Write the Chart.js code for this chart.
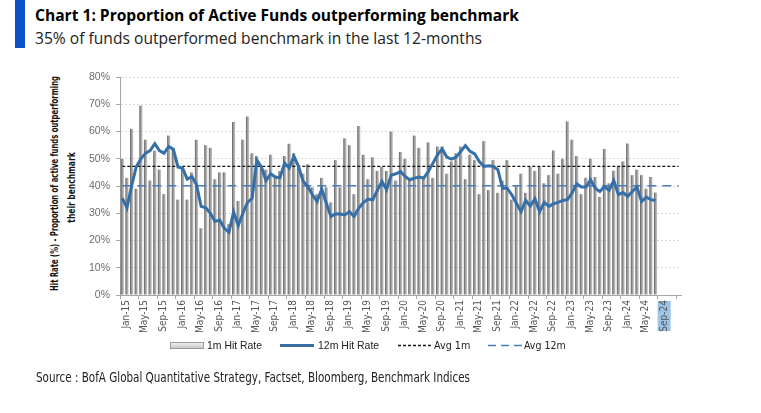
<!DOCTYPE html>
<html>
<head>
<meta charset="utf-8">
<script src="https://cdn.jsdelivr.net/npm/chart.js@4.4.1/dist/chart.umd.min.js"></script>
<style>
  html,body{margin:0;padding:0;background:#fff;}
  body{width:761px;height:413px;position:relative;overflow:hidden;}
  .t{position:absolute;white-space:nowrap;transform-origin:0 50%;line-height:1;}
  #c{position:absolute;left:0;top:0;}
  .rot{position:absolute;white-space:nowrap;line-height:1;font-family:'Liberation Sans Narrow','DejaVu Sans Condensed',sans-serif;font-weight:bold;font-size:11px;color:#111;}
</style>
</head>
<body>
<div style="position:absolute;left:15px;top:0;width:10px;height:48px;background:#0a53c6"></div>
<div class="t" id="title" data-w="484" style="left:35px;top:7px;font-family:'Open Sans',sans-serif;font-weight:bold;font-size:16px;color:#000;">Chart 1: Proportion of Active Funds outperforming benchmark</div>
<div class="t" id="sub" data-w="447" style="left:35px;top:30px;font-family:'Open Sans',sans-serif;font-size:16px;color:#222;">35% of funds outperformed benchmark in the last 12-months</div>
<div class="rot" id="yt1" data-w="215" data-cx="55" data-cy="183">Hit Rate (%) - Proportion of active funds outperforming</div>
<div class="rot" id="yt2" data-w="70" data-cx="71" data-cy="187">their benchmark</div>
<canvas id="c" width="761" height="413"></canvas>
<svg style="position:absolute;left:0;top:335px" width="761" height="20">
  <defs><linearGradient id="lg" x1="0" y1="0" x2="0" y2="1"><stop offset="0" stop-color="#f4f4f4"/><stop offset="1" stop-color="#c4c4c4"/></linearGradient></defs>
  <rect x="170.5" y="7.5" width="33" height="6" fill="url(#lg)" stroke="#9a9a9a" stroke-width="1"/>
  <line x1="280" y1="10.5" x2="314" y2="10.5" stroke="#3a6ea5" stroke-width="3"/>
  <line x1="398" y1="10.5" x2="433" y2="10.5" stroke="#111" stroke-width="1.3" stroke-dasharray="3,2"/>
  <line x1="488" y1="10.5" x2="523" y2="10.5" stroke="#4a7ebb" stroke-width="1.6" stroke-dasharray="8,5"/>
</svg>
<div class="t" data-w="55" style="left:207px;top:340px;font-family:'Liberation Sans',sans-serif;font-size:11px;color:#222;">1m Hit Rate</div>
<div class="t" data-w="61" style="left:318px;top:340px;font-family:'Liberation Sans',sans-serif;font-size:11px;color:#222;">12m Hit Rate</div>
<div class="t" data-w="36" style="left:434px;top:340px;font-family:'Liberation Sans Narrow','DejaVu Sans Condensed',sans-serif;font-size:11px;color:#222;">Avg 1m</div>
<div class="t" data-w="42" style="left:524px;top:340px;font-family:'Liberation Sans Narrow','DejaVu Sans Condensed',sans-serif;font-size:11px;color:#222;">Avg 12m</div>
<div class="t" data-w="434" style="left:36px;top:371px;font-family:'Liberation Sans Narrow','DejaVu Sans Condensed',sans-serif;font-size:13.5px;color:#222;">Source : BofA Global Quantitative Strategy, Factset, Bloomberg, Benchmark Indices</div>
<script>
// ---- data ----
const monthNames = ['Jan','Feb','Mar','Apr','May','Jun','Jul','Aug','Sep','Oct','Nov','Dec'];
const years = [15,16,17,18,19,20,21,22,23,24,25];
const categories = [];
for (const y of years) for (const m of monthNames) { if (categories.length < 121) categories.push(m + '-' + y); }
const lastLabelIndex = 116; // Sep-24
const highlightLabel = 'Sep-24';

const hitRate1m = [50,43,61,39,69.5,57,42,53,46,37,58.5,54,
 35,47,35,45,57,24.5,55,54,42.5,45,45,26,
 63.5,34.5,57,65.5,52,51,47,46,51.5,43.5,45.5,51,
 55.5,52,47,44.5,48,39.5,37,43,39.5,34,49.5,39.5,
 57.5,55,37,62,51.5,42.5,50.5,45.5,47,45.5,60,42,
 52.5,50,42.5,58.5,54,43.5,56,43,54.5,54.5,44.5,49,
 52,54.5,42.5,51.5,49.5,37,56.5,38.5,49.5,37.5,42,49.5,
 35,40,44.5,37.5,47,45.5,47,41,44,53,44.5,50,
 63.7,57,51,37,43,50,43.3,36,53.6,41,45.6,47.2,
 49,55.6,44,46,44,39,43.3,37.6];

const hitRate12m = [35.5,32,40,47,50,52,53,55.5,53,52,54.5,53.5,
 47,46.5,42.5,43.5,40.5,32.5,32,30,27,27.5,24.5,23,
 30.5,25.5,30,34,35.5,49.5,47,42,44.5,43.3,43,48.4,
 46.6,50.9,47.2,41.7,39.8,36.8,34.3,38.8,33.7,28.8,29.8,29.7,
 29.4,30.6,28.8,31.9,33.9,35.2,34.9,38.4,41.7,38.6,44,44.5,
 45.3,43.5,42.3,42.9,43.3,42.9,45.3,48.4,51.5,53.6,50.6,49.9,
 50.6,52.7,54.8,52.7,51.8,49,47.2,47.4,47.2,46,39.2,39.2,
 36.8,33.7,30.6,34.7,32.7,35.3,30.6,34,32.5,33.5,34,34.7,
 35,37.4,40.8,39.6,39.6,42.3,39.2,38,39.8,38.4,42,36.8,
 37.6,36.2,38,39.6,34.3,35.9,35,34.7];

const avg1m = 47.2;
const avg12m = 40.1;
const yTicks = [0,10,20,30,40,50,60,70,80];

const avg1mLine = categories.map(() => avg1m);
const avg12mLine = categories.map(() => avg12m);

const NARROW = "'Liberation Sans Narrow','DejaVu Sans Condensed',sans-serif";

const highlightPlugin = {
  id: 'hl',
  beforeDraw(chart) {
    const xs = chart.scales.x;
    const idx = categories.indexOf(highlightLabel);
    const cx = xs.getPixelForValue(idx) + 4;
    const ctx = chart.ctx;
    ctx.save();
    ctx.fillStyle = '#9dc3e6';
    ctx.fillRect(cx - 6.5, chart.chartArea.bottom + 6, 13, 30);
    ctx.restore();
  }
};

function barColor(ctx) {
  const chart = ctx.chart;
  const xs = chart.scales && chart.scales.x;
  if (!xs || !chart.chartArea || ctx.dataIndex === undefined) return '#9a9a9a';
  const cx = xs.getPixelForValue(ctx.dataIndex);
  const g = chart.ctx.createLinearGradient(cx - 1.6, 0, cx + 1.6, 0);
  g.addColorStop(0, '#5f5f5f');
  g.addColorStop(0.45, '#999999');
  g.addColorStop(1, '#c6c6c6');
  return g;
}

new Chart(document.getElementById('c'), {
  data: {
    labels: categories,
    datasets: [
      { type: 'line', label: '12m Hit Rate', data: hitRate12m, borderColor: '#356fa9', borderWidth: 3, pointRadius: 0, tension: 0, order: 0 },
      { type: 'line', label: 'Avg 1m', data: avg1mLine, borderColor: '#111', borderWidth: 1.3, borderDash: [3, 2], pointRadius: 0, order: 1 },
      { type: 'line', label: 'Avg 12m', data: avg12mLine, borderColor: '#4a7ebb', borderWidth: 1.6, borderDash: [9, 6], pointRadius: 0, order: 1 },
      { type: 'bar', label: '1m Hit Rate', data: hitRate1m, backgroundColor: barColor, barPercentage: 0.68, categoryPercentage: 1.0, order: 2 }
    ]
  },
  options: {
    responsive: false,
    animation: false,
    devicePixelRatio: 1,
    layout: { padding: { top: 77, right: 80, bottom: 0, left: 0 } },
    plugins: { legend: { display: false }, tooltip: { enabled: false } },
    scales: {
      x: {
        type: 'category',
        offset: true,
        grid: { offset: true, drawOnChartArea: false, tickLength: 4, color: (c) => (c.index % 4 === 0 ? '#a6a6a6' : 'rgba(0,0,0,0)') },
        border: { color: '#a6a6a6' },
        ticks: {
          autoSkip: false, maxRotation: 90, minRotation: 90, padding: 1, labelOffset: 4,
          color: '#555', font: { family: NARROW, size: 10 },
          callback: (v, i) => (i % 4 === 0 && i <= lastLabelIndex ? categories[i] : '')
        },
        afterFit: (s) => { s.height = 118; }
      },
      y: {
        min: 0, max: 80,
        afterBuildTicks: (s) => { s.ticks = yTicks.map(v => ({ value: v })); },
        grid: { color: '#d9d9d9', tickLength: 4, tickColor: '#a6a6a6' },
        border: { color: '#a6a6a6', dash: [2, 2] },
        ticks: { padding: 6, color: '#6b6b6b', font: { family: "'Liberation Sans',sans-serif", size: 10.5 }, callback: (v) => v + '%' },
        afterFit: (s) => { s.width = 120; }
      }
    }
  },
  plugins: [highlightPlugin]
});

// fit text widths
document.querySelectorAll('.t[data-w]').forEach(el => {
  const w = el.offsetWidth; const target = +el.dataset.w;
  el.style.transform = 'scaleX(' + (target / w) + ')';
});
document.querySelectorAll('.rot').forEach(el => {
  const w = el.offsetWidth; const h = el.offsetHeight; const target = +el.dataset.w;
  el.style.left = (+el.dataset.cx - w / 2) + 'px';
  el.style.top = (+el.dataset.cy - h / 2) + 'px';
  el.style.transform = 'rotate(-90deg) scaleX(' + (target / w) + ')';
});
</script>
</body>
</html>
